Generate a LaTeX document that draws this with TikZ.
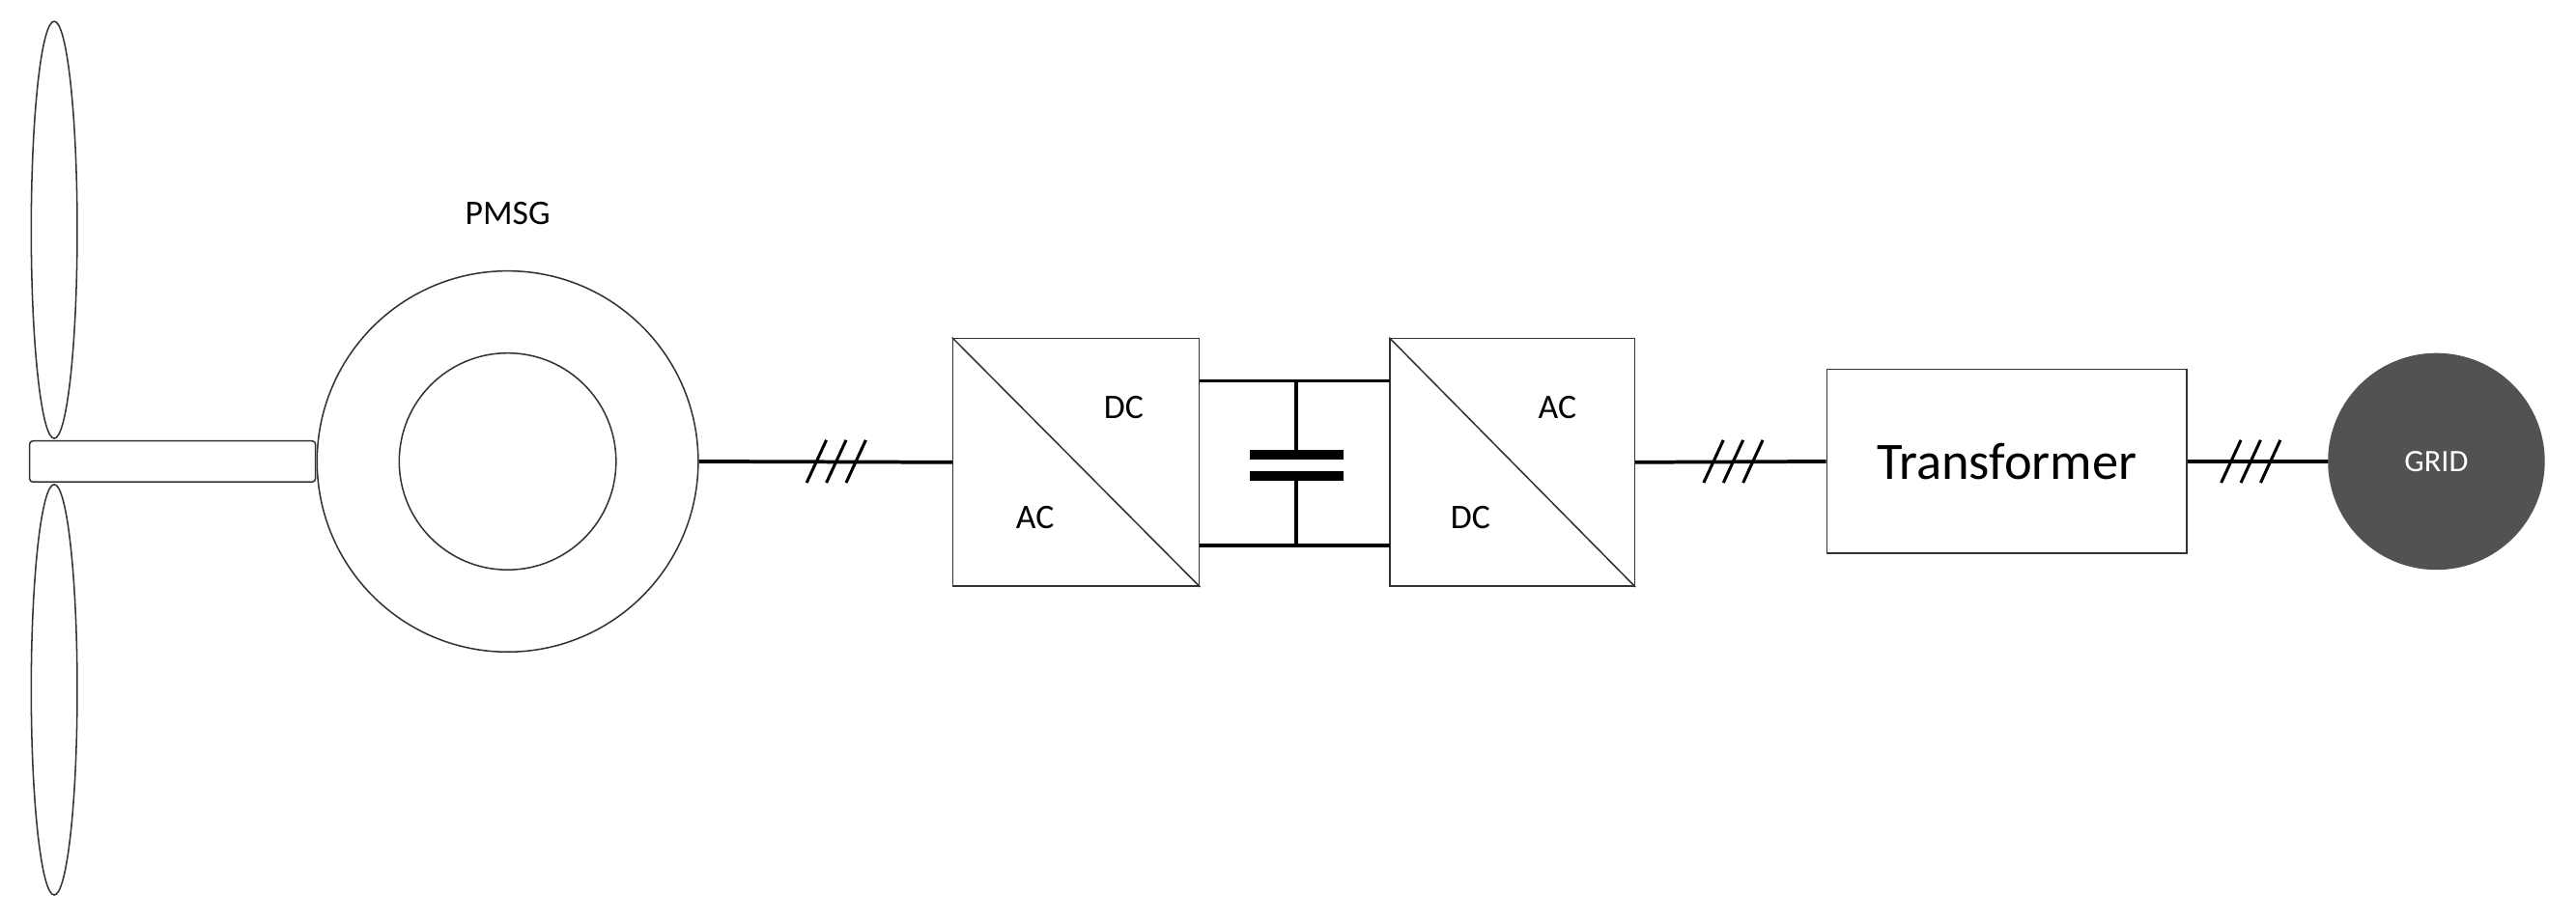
\documentclass[tikz,border=0pt]{standalone}
\usepackage{fontspec}
\setmainfont{Carlito}
\begin{document}
\begin{tikzpicture}[x=1pt,y=-1pt,
  thin/.style={draw=black!80,line width=0.9pt},
  wire/.style={draw=black,line width=2.2pt},
  conv/.style={draw=black!80,line width=0.9pt,minimum width=150pt,minimum height=151pt,inner sep=0pt},
  lbl/.style={font=\fontsize{21}{24}\selectfont}]
\useasboundingbox (0,0) rectangle (1568,561);
% blades
\draw[thin] (33,140) ellipse [x radius=14, y radius=127];
\draw[thin] (33,420) ellipse [x radius=14, y radius=125];
\node[thin,fill=white,rounded corners=2pt,minimum width=174pt,minimum height=25pt,inner sep=0pt] (hub) at (105,281) {};
% PMSG
\node[thin,circle,minimum size=232pt,inner sep=0pt] (gen) at (309,281) {};
\node[thin,circle,minimum size=132pt,inner sep=0pt] (genin) at (309,281) {};
\node[lbl] (pmsg) at (309,130) {PMSG};
% converters
\node[conv] (c1) at (655,281.5) {};
\draw[thin] (c1.north west) -- (c1.south east);
\node[lbl] (c1dc) at (684,248) {DC};
\node[lbl] (c1ac) at (630,315) {AC};
\node[conv,minimum width=149pt] (c2) at (920.5,281.5) {};
\draw[thin] (c2.north west) -- (c2.south east);
\node[lbl] (c2ac) at (948,248) {AC};
\node[lbl] (c2dc) at (895,315) {DC};
% transformer
\node[thin,minimum width=219pt,minimum height=112pt,inner sep=0pt] (tr) at (1221.5,281) {};
\node[font=\fontsize{32}{36}\selectfont] (trt) at (tr) {Transformer};
% grid
\node[circle,fill=black!68,minimum size=132pt,inner sep=0pt,text=white,font=\fontsize{19}{22}\selectfont] (grid) at (1483,281) {GRID};
% wires
\draw[wire] (gen.east) -- (c1.west);
\draw[wire] (c2.east) -- (tr.west);
\draw[wire] (tr.east) -- (grid.west);
\foreach \x in {497,509,521}{\draw[wire,line width=1.8pt] (\x-6,294)--(\x+6,268);}
\foreach \x in {1043,1055,1067}{\draw[wire,line width=1.8pt] (\x-6,294)--(\x+6,268);}
\foreach \x in {1358,1370,1382}{\draw[wire,line width=1.8pt] (\x-6,294)--(\x+6,268);}
% DC link
\coordinate (t1) at (730,232); \coordinate (t2) at (846,232);
\coordinate (b1) at (730,332); \coordinate (b2) at (846,332);
\draw[wire] (t1) -- (t2);
\draw[wire] (b1) -- (b2);
\draw[wire] (789,232) -- (789,276);
\draw[wire] (789,290) -- (789,332);
\draw[line width=6pt] (761,277) -- (818,277);
\draw[line width=6pt] (761,290) -- (818,290);
\end{tikzpicture}
\end{document}
